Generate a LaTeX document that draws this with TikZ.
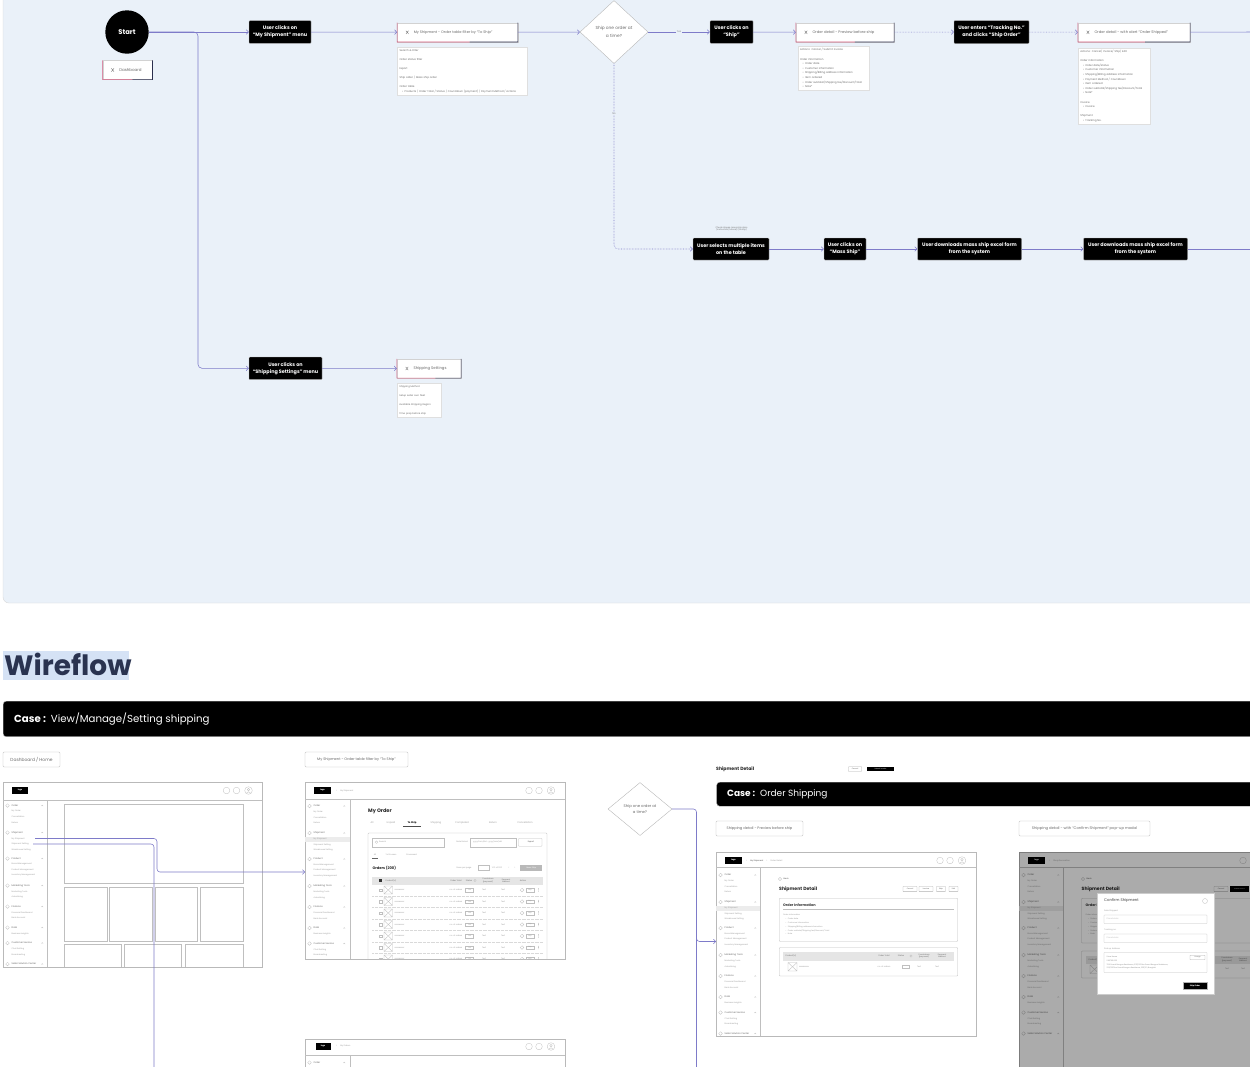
\documentclass[tikz,border=0pt]{standalone}
\usepackage{fontspec}
\setmainfont{Poppins}
\usetikzlibrary{arrows.meta,shapes.geometric,calc}
\definecolor{bgc}{HTML}{EAF1F9}
\definecolor{cc}{HTML}{7E7BC9}
\definecolor{pinkc}{HTML}{D2587C}
\definecolor{navyc}{HTML}{2B2F4E}
\definecolor{tg}{HTML}{6A6A6A}
\definecolor{hl}{HTML}{D5E2F5}
\definecolor{wtitle}{HTML}{2A3350}
\newcommand\fs[2]{\fontsize{#1}{#2}\selectfont}
\newcommand\bl{\hspace*{2.5pt}•\hspace{1.5pt}}
\tikzset{
 conn/.style={draw=cc, line width=0.55pt, -{Straight Barb[length=2.2pt,width=4.6pt]}},
 connp/.style={draw=cc, line width=0.55pt},
 dotc/.style={conn, densely dotted},
 act/.style={fill=black, draw=gray!55, line width=0.3pt, rounded corners=0.8pt, text=white, font=\fs{4.9}{7}\bfseries, align=center, inner sep=0pt},
 scr/.style={fill=white, draw=gray!35, line width=0.3pt, inner sep=0pt},
 scrtxt/.style={font=\fs{3.6}{4}, text=tg, inner sep=0pt},
 note/.style={fill=white, draw=gray!25, line width=0.3pt, font=\fs{2.6}{4.6}, text=tg, align=left, anchor=north west, inner sep=2.2pt},
 dia/.style={diamond, fill=white, draw=gray!60, line width=0.35pt, inner sep=0pt, font=\fs{4.3}{7.5}, align=center, text=tg},
 lbl/.style={fill=white, draw=gray!55, line width=0.35pt, rounded corners=1.2pt, inner sep=0pt, text=tg},
 wf/.style={fill=white, draw=gray!55, line width=0.35pt, inner sep=0pt, anchor=north west},
 wfl/.style={draw=gray!50, line width=0.3pt},
 tx/.style={inner sep=0pt, text=tg},
 sbh/.style={inner sep=0pt, text=gray!80!black, font=\fs{2.3}{2.5}},
 sbi/.style={inner sep=0pt, text=gray!75, font=\fs{2}{2.2}},
 logo/.style={fill=black, inner sep=0pt, text=white, font=\fs{2}{2}\bfseries},
 btn/.style={draw=gray!60, line width=0.3pt, inner sep=0pt, font=\fs{1.8}{2}, text=gray!80!black, rounded corners=0.4pt},
 lab/.style={fill=bgc, inner sep=0.6pt, font=\fs{2.4}{3}, text=gray}
}
\newcommand\sbar[2]{%
\begin{scope}[shift={(#1,#2)}]
\foreach \dy/\nm in {0/Order,27/Shipment,53/Product,80/Marketing Tools,101/Finance,122/Data,137.5/Customer Service,158.5/Seller Solution Center}{%
 \draw[wfl] (4.5,\dy) circle (1.8pt);
 \node[sbh, anchor=west] at (8.5,\dy) {\nm};
 \draw[wfl] (38.5,\dy+0.4) -- (39.3,\dy-0.4) -- (40.1,\dy+0.4);
}
\foreach \dy/\nm in {6/My Order,11.5/Cancellation,17/Return,33/My Shipment,38.5/Shipment Setting,44/Warehouse Setting,59/Brand Management,64.5/Product Management,70/Inventory Management,86/Marketing Tools,91.5/Advertising,107/Financial Dashboard,112.5/Bank Account,128/Business Insights,143.5/Chat Setting,149/Broadcasting}{%
 \node[sbi, anchor=west] at (8.5,\dy) {\nm};
}
\end{scope}}
\newcommand\scrbox[5]{%
 \node[scr, minimum width=#3, minimum height=19] (#1) at (#2) {};
 \draw[pinkc, line width=0.6pt] (#1.north west) -- (#1.south west) -- ($(#1.south west)!0.6!(#1.south east)$);
 \draw[navyc, line width=0.6pt] ($(#1.south west)!0.6!(#1.south east)$) -- (#1.south east) -- (#1.north east);
 \draw[tg, line width=0.35pt] ($(#1.west)+(8.8,-1.6)$) -- ++(2.6,3.2) ($(#1.west)+(11.4,-1.6)$) -- ++(-2.6,3.2);
 \node[scrtxt, anchor=west, font=\fs{#5}{4}] (#1t) at ($(#1.west)+(16.5,0)$) {#4};
}
\newcommand\hdricons[2]{%
 \draw[wfl] (#1,#2) circle (3.3pt) (#1+10,#2) circle (3.3pt) (#1+22,#2) circle (3.8pt);
 \draw[wfl] (#1+22,#2-0.9) circle (1.2pt);
 \draw[wfl] (#1+19.9,#2+2.6) .. controls (#1+20.2,#2+0.8) and (#1+23.8,#2+0.8) .. (#1+24.1,#2+2.6);
}
\begin{document}
\begin{tikzpicture}[x=1pt,y=-1pt]
\clip (0,0) rectangle (1250,1066);
\fill[white] (0,0) rectangle (1250,1066);
\draw[fill=bgc, draw=gray!30, line width=0.4pt, rounded corners=6pt] (3,-10) rectangle (1262,603);

% ---------- top user flow ----------
\node[circle, fill=black, minimum size=43.4pt, inner sep=0pt, text=white, font=\fs{6.8}{7}\bfseries] (start) at (127,32) {Start};
\scrbox{s0}{127.5,70}{49.6}{Dashboard}{4}
\node[act, minimum width=62, minimum height=22.6] (a1) at (280,32) {User clicks on\\``My Shipment'' menu};
\scrbox{s1}{457.5,32.3}{120.4}{My Shipment - Order table filter by ``To Ship''}{3.6}
\node[note, text width=125.6pt] (n1) at (397.3,46.7) {Search \& Filter\\[4.6pt]Order status filter\\[4.6pt]Export\\[4.6pt]Ship order / Mass ship order\\[4.6pt]Order table\\\bl Products / Order Total / Status / Countdown (payment) / Payment Method / Actions};
\node[dia, minimum width=68, minimum height=63] (d1) at (614,32) {Ship one order at\\a time?};
\node[act, minimum width=43, minimum height=22.6] (a2) at (731.5,32) {User clicks on\\``Ship''};
\scrbox{s2}{845,32.3}{98}{Order detail - Preview before ship}{3.7}
\node[note, text width=67.2pt] (n2) at (797.7,46) {Actions: Cancel / Submit invoice\\[4.6pt]Order information\\\bl Order date\\\bl Customer information\\\bl Shipping/Billing address information\\\bl Item ordered\\\bl Order subtotal/Shipping fee/Discount/Total\\\bl Note*};
\node[act, minimum width=75, minimum height=23] (a3) at (991.5,32) {User enters ``Tracking No.''\\and clicks ``Ship Order''};
\scrbox{s3}{1134,32.3}{112}{Order detail - with alert ``Order Shipped''}{3.7}
\node[note, text width=67.6pt] (n3) at (1078,47.7) {Actions: Cancel/ Invoice/ Ship/ Edit\\[4.6pt]Order information\\\bl Order date/status\\\bl Customer information\\\bl Shipping/Billing address information\\\bl Payment Method / Countdown\\\bl Item ordered\\\bl Order subtotal/Shipping fee/Discount/Total\\\bl Note*\\[4.6pt]Invoice\\\bl Invoice\\[4.6pt]Shipment\\\bl Tracking No.};
\coordinate (exit1) at (1255,32);

\node[act, minimum width=76, minimum height=22] (m1) at (731,249) {User selects multiple items\\on the table};
\node[tx, font=\fs{2.1}{2.7}, align=center, text=gray!90!black] (tip) at (731.5,229) {Check shopee mass ship docs\\(instruction/tutorial) (tooltip)};
\node[act, minimum width=42, minimum height=22] (m2) at (845,249) {User clicks on\\``Mass Ship''};
\node[act, minimum width=104, minimum height=22] (m3) at (969.5,249) {User downloads mass ship excel form\\from the system};
\node[act, minimum width=104, minimum height=22] (m4) at (1135.5,249) {User downloads mass ship excel form\\from the system};
\coordinate (exit2) at (1255,249);

\node[act, minimum width=73, minimum height=22.6] (ssa) at (285.5,368.3) {User clicks on\\``Shipping Settings'' menu};
\scrbox{s4}{429,368.5}{64}{Shipping Settings}{3.8}
\node[note, text width=39.6pt, font=\fs{2.4}{4.5}] (n4) at (397,383) {Shipping Method\\[4.5pt]Setup seller own fleet\\[4.5pt]Available Shipping Region\\[4.5pt]Time prep before ship};

\draw[conn] (start.east) -- (a1.west);
\draw[conn, rounded corners=4pt] (start.east) -- (198,32) -- (198,368.3) -- (ssa.west);
\draw[conn] (a1) -- (s1);
\draw[conn] (s1) -- (d1);
\draw[conn] (d1) -- node[lab] (yes) {Yes} (a2);
\draw[conn] (a2) -- (s2);
\draw[dotc] (s2) -- (a3);
\draw[dotc] (a3) -- (s3);
\draw[connp] (s3) -- (exit1);
\draw[dotc, rounded corners=4pt] (d1.south) -- node[lab, pos=0.27] (no) {No} (614,249) -- (m1.west);
\draw[conn] (m1) -- (m2);
\draw[conn] (m2) -- (m3);
\draw[conn] (m3) -- (m4);
\draw[connp] (m4) -- (exit2);
\draw[conn] (ssa) -- (s4);

% ---------- Wireflow ----------
\fill[hl] (3,651) rectangle (129,679.5);
\node[inner sep=0pt, anchor=base west, font=\fs{28}{28}\bfseries, text=wtitle] (wtitle) at (4,675) {Wireflow};
\node[fill=black, draw=gray!60, line width=0.4pt, rounded corners=3pt, minimum width=1262, minimum height=35.5, anchor=north west, inner sep=0pt] (b1) at (3,701) {};
\node[anchor=west, inner sep=0pt, text=white, font=\fs{10.2}{11}] (b1t) at (14,719) {\textbf{Case :}\hspace{5pt}View/Manage/Setting shipping};

\node[lbl, minimum width=57, minimum height=15, font=\fs{4.4}{5}] (l1) at (31.5,759.5) {Dashboard / Home};
\node[lbl, minimum width=103, minimum height=15, font=\fs{3.6}{4}] (l2) at (356.5,759.5) {My Shipment - Order table filter by ``To Ship''};

% wireframe 1
\node[wf, minimum width=259, minimum height=184.5] (wf1) at (3,782) {};
\begin{scope}
\clip (3,782) rectangle (262,966.5);
\draw[wfl] (3,800) -- (262,800) (47,800) -- (47,966.5);
\node[logo, minimum width=16.6, minimum height=7.6] (wf1logo) at (20,790.5) {logo};
\hdricons{226.5}{790.5}
\sbar{3}{805.5}
\foreach \a/\b/\c/\d in {64/804.5/243/883.5, 64/887/107/941.5, 109.5/887/152/941.5, 155/887/197.5/941.5, 200/887/243/941.5, 64/944.5/121/968, 124/944.5/181.5/968, 185/944.5/243/968}
  \draw[wfl] (\a,\b) rectangle (\c,\d);
\end{scope}

% wireframe 2
\node[wf, minimum width=260, minimum height=177] (wf2) at (305,782) {};
\begin{scope}
\clip (305,782) rectangle (565,959);
\draw[wfl] (305,799.5) -- (565,799.5) (350,799.5) -- (350,959);
\node[logo, minimum width=17, minimum height=7.6] (wf2logo) at (322.5,790.5) {logo};
\node[sbi, anchor=west] at (336,790.5) {>\hspace{3pt}My Shipment};
\hdricons{529}{790.5}
\fill[gray!15] (305,836.5) rectangle (349.5,841.5);
\sbar{305}{806}
\node[tx, anchor=west, font=\fs{5}{5}\bfseries, text=black!85] at (368,811) {My Order};
\foreach \x/\nm in {372/All,391/Unpaid,436/Shipping,462/Completed,493/Return/Refund,525/Cancellation}
  \node[sbi, font=\fs{2.4}{2.6}] at (\x,823) {\nm};
\node[tx, font=\fs{2.4}{2.6}\bfseries, text=black] at (412,823) {To Ship};
\draw[black!70, line width=0.4pt] (403,826.5) -- (421,826.5);
\draw[wfl, rounded corners=0.8pt] (368,833) rectangle (547,962);
\draw[wfl] (372.5,837.7) rectangle (444,846.7);
\draw[wfl] (376.5,842.2) circle (1.3pt);
\node[sbi, anchor=west] at (379,842.2) {Search};
\node[sbi, anchor=east] at (468,842.2) {Date Period};
\draw[wfl] (470.5,837.7) rectangle (515.7,846.7);
\node[sbi, anchor=west] at (473,842.2) {yyyy/mm/dd - yyyy/mm/dd};
\draw[wfl, rounded corners=0.6pt] (518.5,838.5) rectangle (542,846.2);
\node[sbi, text=black!70] at (531,842.2) {Export};
\node[sbi] at (375,855) {All};
\node[sbi] at (391,855) {To Process};
\node[sbi] at (411.5,855) {Processed};
\draw[black!60, line width=0.3pt] (372,858) -- (378,858);
\node[tx, anchor=west, font=\fs{3.6}{4}\bfseries, text=black!85] at (372.3,868) {Orders (200)};
\node[sbi] at (464,868) {Rows per page};
\draw[wfl] (478,865.5) rectangle (489,870.5);
\node[sbi] at (497,868) {1-10 of 200};
\node[sbi] at (509,868) {<};
\node[sbi] at (515,868) {>};
\node[fill=gray!55, inner sep=0pt, minimum width=22, minimum height=5.5, font=\fs{1.9}{2}, text=white] at (531.3,868) {Mass Ship};
\fill[gray!20] (372,876.5) rectangle (543,884.5);
\fill[black!80] (378.8,879.2) rectangle (381.6,882);
\node[sbi, text=gray!90!black] at (391,880.5) {Product(s)};
\node[sbi, text=gray!90!black] at (456,880.5) {Order Total};
\node[sbi, text=gray!90!black] at (469,880.5) {Status};
\draw[wfl] (475,880.5) circle (1.2pt);
\node[sbi, text=gray!90!black, align=center, font=\fs{1.9}{2.3}] at (488,880.5) {Countdown\\(payment)};
\node[sbi, text=gray!90!black, align=center, font=\fs{1.9}{2.3}] at (506,880.5) {Payment\\Method};
\node[sbi, text=gray!90!black] at (523,880.5) {Action};
\foreach \y in {890,901.5,913,924.5,936,947.5,959}{
  \draw[wfl] (379.2,\y-1.3) rectangle (381.8,\y+1.3);
  \draw[wfl] (384,\y-4) rectangle (392.5,\y+4) (384,\y-4) -- (392.5,\y+4) (384,\y+4) -- (392.5,\y-4);
  \node[sbi, anchor=west] at (394.5,\y) {xxxxxxxxxx};
  \node[sbi] at (456,\y) {no. of orders};
  \draw[wfl] (465.5,\y-1.7) rectangle (473.5,\y+1.7);
  \node[sbi, font=\fs{1.6}{2}] at (469.5,\y) {Text};
  \node[sbi] at (484,\y) {Text};
  \node[sbi] at (503,\y) {Text};
  \draw[wfl] (522,\y) circle (1.8pt);
  \draw[wfl] (526,\y-1.7) rectangle (534,\y+1.7);
  \node[sbi, font=\fs{1.6}{2}] at (530,\y) {Ship};
  \fill[gray!70] (538.5,\y-1.3) circle (0.3pt) (538.5,\y) circle (0.3pt) (538.5,\y+1.3) circle (0.3pt);
  \draw[gray!30, line width=0.3pt, densely dotted] (372,\y+5.75) -- (543,\y+5.75);
}
\end{scope}

% wireframe 3 (bottom)
\node[wf, minimum width=260, minimum height=40] (wf3) at (305,1038.5) {};
\draw[wfl] (305,1055.5) -- (565,1055.5) (350,1055.5) -- (350,1070);
\node[logo, minimum width=15, minimum height=7] (wf3logo) at (323,1046.5) {logo};
\node[sbi, anchor=west] at (336,1046.5) {>\hspace{3pt}My Orders};
\hdricons{529}{1046.5}
\draw[wfl] (309.5,1062.5) circle (1.8pt);
\node[sbh, anchor=west] at (313.5,1062.5) {Order};
\draw[wfl] (343.5,1062.9) -- (344.3,1062.1) -- (345.1,1062.9);

% connectors in wireframe 1
\coordinate (wf1ms) at (35,838.5);
\coordinate (wf1ss) at (33,844);
\coordinate (bot1) at (154,1070);
\draw[conn, rounded corners=3pt] (wf1ms) -- (157,838.5) -- (157,872) -- ($(wf2.north west)+(0,90)$);
\draw[connp, rounded corners=3pt] (wf1ss) -- (154,844) -- (bot1);

% ---------- Order shipping ----------
\node[dia, minimum width=64, minimum height=53, font=\fs{3.8}{6.5}] (d2) at (640,809) {Ship one order at\\a time?};
\node[tx, anchor=west, font=\fs{4.6}{5}\bfseries, text=black!85] (sdt) at (716,769) {Shipment Detail};
\node[btn, minimum width=13.5, minimum height=4.4] (sdc) at (855,769) {Cancel};
\node[fill=black, inner sep=0pt, minimum width=27, minimum height=4.4, font=\fs{1.6}{2}, text=white] (sds) at (880.5,769) {Submit invoice};
\node[fill=black, draw=gray!60, line width=0.4pt, rounded corners=3pt, minimum width=550, minimum height=24, anchor=north west, inner sep=0pt] (b2) at (716.5,782) {};
\node[anchor=west, inner sep=0pt, text=white, font=\fs{9}{9.5}] (b2t) at (727,794.5) {\textbf{Case :}\hspace{5pt}Order Shipping};
\node[lbl, minimum width=87, minimum height=15, font=\fs{3.6}{4}] (l3) at (759.5,828.5) {Shipping detail - Preview before ship};
\node[lbl, minimum width=131, minimum height=15, font=\fs{3.7}{4}] (l4) at (1084.5,828.5) {Shipping detail - with ``Confirm Shipment'' pop-up modal};

% wireframe 4
\node[wf, minimum width=260, minimum height=184] (wf4) at (716,851.5) {};
\begin{scope}
\clip (716,851.5) rectangle (976,1035.5);
\draw[wfl] (716,867.5) -- (976,867.5) (760,867.5) -- (760,1035.5);
\node[logo, minimum width=17, minimum height=7] (wf4logo) at (733.5,860.5) {logo};
\node[sbi, anchor=west] at (746,860.5) {>\hspace{3pt}\textcolor{black!70}{My Shipment}\hspace{3pt}>\hspace{3pt}Order Detail};
\hdricons{940}{860.5}
\fill[gray!15] (716,905.5) rectangle (759.5,910.5);
\sbar{716}{875}
\draw[wfl] (780,879) circle (1.6pt);
\node[sbi, anchor=west, text=black!70] at (783.5,879) {Back};
\node[tx, anchor=west, font=\fs{4.6}{5}\bfseries, text=black!85] at (779,889.3) {Shipment Detail};
\foreach \cx/\w/\nm in {910/14/Cancel,926/14/Invoice,941/9/Ship,953.5/9/Edit}
  \node[btn, minimum width=\w, minimum height=5.2] at (\cx,889) {\nm};
\draw[wfl, rounded corners=0.8pt] (779.3,898.3) rectangle (957.7,941.5);
\node[tx, anchor=west, font=\fs{3.5}{4}\bfseries, text=black!80] at (783,905) {Order Information};
\draw[wfl] (783,909.3) -- (954,909.3);
\node[tx, anchor=north west, align=left, font=\fs{1.9}{3.9}, text=gray!75] at (783,913.8) {Order information\\\bl Order date\\\bl Customer information\\\bl Shipping/Billing address information\\\bl Order subtotal/Shipping fee/Discount/Total\\\bl Note};
\draw[wfl, rounded corners=0.8pt] (779.3,947.5) rectangle (957.7,976);
\fill[gray!20] (783,951.5) rectangle (954,960.5);
\node[sbi, text=gray!90!black] at (791,956) {Product(s)};
\node[sbi, text=gray!90!black] at (884,956) {Order Total};
\node[sbi, text=gray!90!black] at (901,956) {Status};
\draw[wfl] (911,956) circle (1.2pt);
\node[sbi, text=gray!90!black, align=center, font=\fs{1.9}{2.3}] at (924,956) {Countdown\\(payment)};
\node[sbi, text=gray!90!black, align=center, font=\fs{1.9}{2.3}] at (942,956) {Payment\\Method};
\draw[wfl] (788,962.5) rectangle (797,971) (788,962.5) -- (797,971) (788,971) -- (797,962.5);
\node[sbi, anchor=west] at (799,966.5) {xxxxxxxxxx};
\node[sbi] at (884,966.5) {no. of orders};
\draw[wfl] (902,964.8) rectangle (909,968.2);
\node[sbi] at (919,966.5) {Text};
\node[sbi] at (937,966.5) {Text};
\end{scope}

% wireframe 5 (with modal)
\node[wf, minimum width=245, minimum height=220] (wf5) at (1019,851.5) {};
\begin{scope}
\clip (1019,851.5) rectangle (1264,1071.5);
\draw[wfl] (1019,867.5) -- (1264,867.5) (1063,867.5) -- (1063,1071.5);
\node[logo, minimum width=16.6, minimum height=7.6] (wf5logo) at (1036.7,860.5) {logo};
\node[sbi, anchor=west] at (1049,860.5) {>\hspace{3pt}Shop Decoration};
\draw[wfl] (1243,860.5) circle (3.3pt);
\fill[gray!15] (1019,905.5) rectangle (1062.5,910.5);
\sbar{1019}{875}
\draw[wfl] (1083,879) circle (1.6pt);
\node[sbi, anchor=west, text=black!70] at (1086.5,879) {Back};
\node[tx, anchor=west, font=\fs{4.6}{5}\bfseries, text=black!85] at (1081.5,889.5) {Shipment Detail};
\node[btn, minimum width=14, minimum height=5.2] at (1221,889) {Cancel};
\node[fill=black, inner sep=0pt, minimum width=19, minimum height=5.2, font=\fs{1.4}{2}, text=white] at (1239.5,889) {Submit invoice};
\draw[wfl, rounded corners=0.8pt] (1081.5,898.3) rectangle (1266,943);
\node[tx, anchor=west, font=\fs{3.5}{4}\bfseries, text=black!80] at (1085.5,905) {Order Information};
\node[tx, anchor=north west, align=left, font=\fs{1.9}{3.9}, text=gray!75] at (1085.5,913.8) {Order information\\\bl Order date\\\bl Customer information\\\bl Shipping/Billing address information\\\bl Order subtotal/Shipping fee\\\bl Note};
\draw[wfl, rounded corners=0.8pt] (1081.5,951) rectangle (1266,978);
\fill[gray!20] (1085.5,955.5) rectangle (1266,963.5);
\node[sbi, text=gray!90!black] at (1094,959.5) {Product(s)};
\node[sbi, text=gray!90!black, align=center, font=\fs{1.9}{2.3}] at (1227,959.5) {Countdown\\(payment)};
\node[sbi, text=gray!90!black, align=center, font=\fs{1.9}{2.3}] at (1243,959.5) {Payment\\Method};
\draw[wfl] (1090,965) rectangle (1099,973.5) (1090,965) -- (1099,973.5) (1090,973.5) -- (1099,965);
\node[sbi] at (1227,969) {Text};
\node[sbi] at (1243,969) {Text};
\fill[black, opacity=0.33] (1019,851.5) rectangle (1264,1071.5);
\end{scope}
\node[fill=white, draw=gray!40, line width=0.3pt, minimum width=117, minimum height=101, anchor=north west, inner sep=0pt] (modal) at (1097,893) {};
\node[tx, anchor=west, font=\fs{3.8}{4}, text=black!75] (mt) at (1104,901) {Confirm Shipment};
\draw[wfl] (1205,901) circle (2.5pt);
\node[sbi, anchor=west] at (1104,911) {Date Shipped};
\draw[wfl, rounded corners=0.5pt] (1104,915) rectangle (1207,923.5);
\node[sbi, anchor=west, text=gray!50] at (1106.5,919.2) {Placeholder};
\node[sbi, anchor=west] at (1104,930) {Tracking no.};
\draw[wfl, rounded corners=0.5pt] (1104,934) rectangle (1207,942.5);
\node[sbi, anchor=west, text=gray!50] at (1106.5,938.2) {Placeholder};
\node[sbi, anchor=west] at (1104,949) {Pick up Address};
\draw[wfl, rounded corners=0.5pt] (1104,952.5) rectangle (1207,972.5);
\node[tx, anchor=north west, align=left, font=\fs{1.8}{3.8}, text=gray!85] at (1106.5,956) {Store Name\\0987654321\\789 Grand Bangna Residence, 235/297the Grand Bangna Residence,\\235/297the Grand Bangna Residence, 235/23, Bangkok};
\node[btn, minimum width=15, minimum height=4.5, font=\fs{1.6}{2}] at (1197.5,957.5) {Change};
\node[fill=black, draw=gray!60, line width=0.3pt, inner sep=0pt, minimum width=24, minimum height=6.5, font=\fs{1.9}{2}\bfseries, text=white] (shipo) at (1195,985.5) {Ship Order};

% connectors for order shipping
\coordinate (bot2) at (696.5,1070);
\draw[conn, rounded corners=3pt] (d2.east) -- (696.5,809) -- (696.5,941.5) -- ($(wf4.north west)+(0,90)$);
\draw[connp] (696.5,930) -- (bot2);
\end{tikzpicture}
\end{document}
